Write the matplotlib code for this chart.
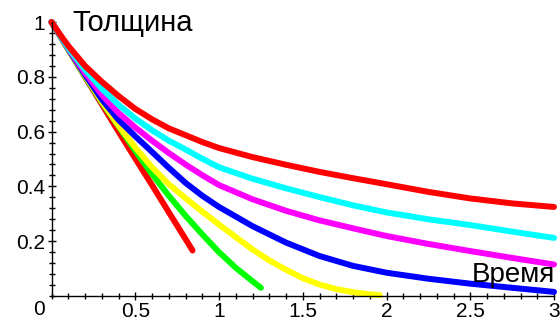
#!/usr/bin/env python3
"""Thickness vs time curves, Maple-style axes through the origin."""

import matplotlib

matplotlib.use("Agg")
import matplotlib.pyplot as plt
from matplotlib.ticker import MultipleLocator

plt.rcParams["font.family"] = ["Liberation Sans", "DejaVu Sans"]

# curves, slowest decay first
t_long = [0, 0.05, 0.1, 0.2, 0.3, 0.4, 0.5, 0.6, 0.7, 0.8, 0.9, 1.0,
          1.2, 1.4, 1.6, 1.8, 2.0, 2.25, 2.5, 2.75, 3.0]
h_red_top = [1, 0.955, 0.913, 0.84, 0.782, 0.73, 0.683, 0.645, 0.612, 0.587, 0.562, 0.54,
             0.507, 0.479, 0.453, 0.43, 0.408, 0.38, 0.356, 0.338, 0.325]
h_cyan = [1, 0.952, 0.905, 0.826, 0.757, 0.698, 0.648, 0.605, 0.567, 0.535, 0.501, 0.47,
          0.428, 0.393, 0.361, 0.331, 0.305, 0.28, 0.259, 0.235, 0.212]
h_magenta = [1, 0.952, 0.904, 0.815, 0.735, 0.668, 0.615, 0.567, 0.522, 0.48, 0.441, 0.405,
             0.353, 0.311, 0.276, 0.247, 0.219, 0.19, 0.164, 0.139, 0.115]
h_blue = [1, 0.951, 0.902, 0.808, 0.718, 0.643, 0.583, 0.526, 0.468, 0.413, 0.366, 0.325,
          0.255, 0.195, 0.146, 0.11, 0.085, 0.063, 0.045, 0.03, 0.015]

t_yellow = [0, 0.05, 0.1, 0.2, 0.3, 0.4, 0.5, 0.6, 0.7, 0.8, 0.9, 1.0,
            1.1, 1.2, 1.3, 1.4, 1.5, 1.6, 1.7, 1.8, 1.9, 1.96]
h_yellow = [1, 0.95, 0.90, 0.805, 0.71, 0.622, 0.542, 0.47, 0.408, 0.357, 0.308, 0.261,
            0.215, 0.17, 0.13, 0.096, 0.065, 0.042, 0.025, 0.014, 0.006, 0.003]

t_green = [0, 0.05, 0.1, 0.2, 0.3, 0.4, 0.5, 0.6, 0.7, 0.8, 0.9, 1.0, 1.1, 1.2, 1.25]
h_green = [1, 0.95, 0.90, 0.802, 0.707, 0.62, 0.53, 0.445, 0.366, 0.293, 0.225, 0.16,
           0.103, 0.054, 0.03]

t_red_low = [0, 0.1, 0.2, 0.3, 0.4, 0.5, 0.6, 0.7, 0.8, 0.842]
h_red_low = [1, 0.9, 0.80, 0.70, 0.60, 0.502, 0.405, 0.306, 0.208, 0.166]

x_ticks = [0.5, 1, 1.5, 2, 2.5, 3]
x_labels = ["0.5", "1", "1.5", "2", "2.5", "3"]
y_ticks = [0.2, 0.4, 0.6, 0.8, 1]
y_labels = ["0.2", "0.4", "0.6", "0.8", "1"]

fig = plt.figure(figsize=(5.6, 3.2), dpi=100)
ax = fig.add_axes([51.5 / 560, 24 / 320, 502.5 / 560, 274 / 320])

series = [
    (t_red_low, h_red_low, "#ff0000"),
    (t_green, h_green, "#00ff00"),
    (t_yellow, h_yellow, "#ffff00"),
    (t_long, h_blue, "#0000ff"),
    (t_long, h_magenta, "#ff00ff"),
    (t_long, h_cyan, "#00ffff"),
    (t_long, h_red_top, "#ff0000"),
]
for t, h, c in series:
    ax.plot(t, h, color=c, lw=4.3, solid_capstyle="round",
            solid_joinstyle="round", clip_on=False)

ax.set_xlim(0, 3)
ax.set_ylim(0, 1)
for side in ("top", "right"):
    ax.spines[side].set_visible(False)
for side in ("left", "bottom"):
    ax.spines[side].set_linewidth(1.0)

ax.set_xticks(x_ticks)
ax.set_xticklabels(x_labels)
ax.set_yticks(y_ticks)
ax.set_yticklabels(y_labels)
ax.xaxis.set_minor_locator(MultipleLocator(0.1))
ax.yaxis.set_minor_locator(MultipleLocator(0.04))
ax.tick_params(which="major", direction="inout", length=6, width=1, labelsize=15, pad=1.5)
ax.tick_params(which="minor", direction="inout", length=4, width=1)

ax.annotate("0", xy=(0, 0), xytext=(-12, -4), textcoords="offset pixels",
            ha="center", va="top", fontsize=15)

fig.text(72 / 560, (320 - 31) / 320, "Толщина", fontsize=21, va="baseline", ha="left")
fig.text(555 / 560, (320 - 282) / 320, "Время", fontsize=20, va="baseline", ha="right")

fig.savefig("out.png", dpi=100)
